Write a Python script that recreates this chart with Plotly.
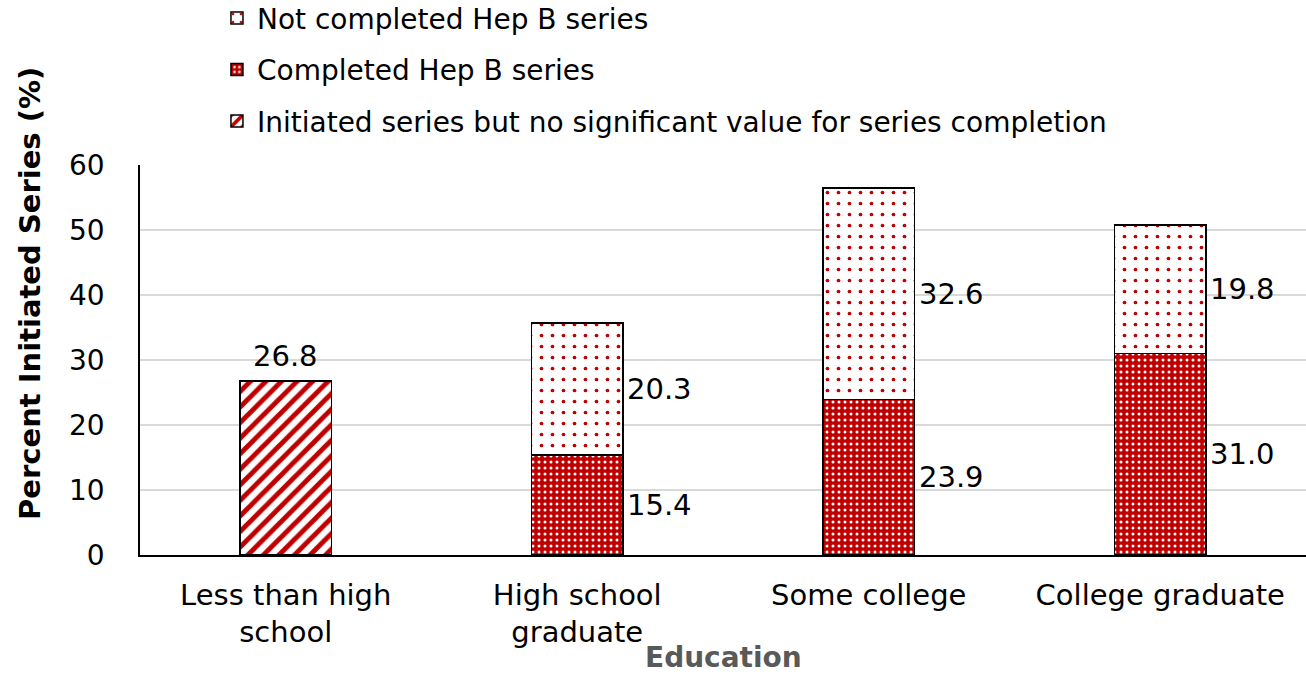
import plotly.graph_objects as go

categories = ["Less than high<br>school", "High school<br>graduate", "Some college", "College graduate"]
completed = [None, 15.4, 23.9, 31.0]
not_completed = [None, 20.3, 32.6, 19.8]
initiated_only = [26.8, None, None, None]

RED = "#C00000"
FONT = "DejaVu Sans"
FS = 28

fig = go.Figure()

fig.add_trace(go.Bar(
    x=categories, y=completed, name="Completed Hep B series", legendrank=2,
    legendgroup="b",
    marker=dict(color=RED, line=dict(color="black", width=1.5),
                pattern=dict(shape=".", bgcolor=RED, fgcolor="white", fgopacity=1, size=6, solidity=0.2)),
))
fig.add_trace(go.Bar(
    x=categories, y=not_completed, name="Not completed Hep B series", legendrank=1,
    legendgroup="a",
    marker=dict(color="white", line=dict(color="black", width=1.5),
                pattern=dict(shape=".", bgcolor="white", fgcolor=RED, fgopacity=1, size=11, solidity=0.09)),
))
fig.add_trace(go.Bar(
    x=categories, y=initiated_only, name="Initiated series but no significant value for series completion",
    legendrank=3, legendgroup="c",
    marker=dict(color="white", line=dict(color="black", width=1.5),
                pattern=dict(shape="/", bgcolor="white", fgcolor=RED, fgopacity=1, size=11, solidity=0.45)),
))

# data labels to the right of each segment
lab_font = dict(size=29, color="black", family=FONT)
for cat, c, n in zip(categories, completed, not_completed):
    if c is not None:
        fig.add_annotation(x=cat, y=c / 2, text=f"{c:.1f}", showarrow=False,
                           xanchor="left", xshift=48, font=lab_font)
        fig.add_annotation(x=cat, y=c + n / 2, text=f"{n:.1f}", showarrow=False,
                           xanchor="left", xshift=48, font=lab_font)
for cat, v in zip(categories, initiated_only):
    if v is not None:
        fig.add_annotation(x=cat, y=v, text=f"{v:.1f}", showarrow=False,
                           yanchor="bottom", yshift=6, font=lab_font)

# axis titles
fig.add_annotation(xref="paper", yref="paper", x=-0.095, y=0.67, xanchor="center", yanchor="middle",
                   text="<b>Percent Initiated Series (%)</b>", textangle=-90, showarrow=False,
                   font=dict(size=29, color="black", family=FONT))
fig.add_annotation(xref="paper", yref="paper", x=0.5, y=-0.264, xanchor="center", yanchor="middle",
                   text="<b>Education</b>", showarrow=False,
                   font=dict(size=FS, color="#595959", family=FONT))

fig.update_layout(
    barmode="stack",
    bargap=0.685,
    width=1306, height=674,
    margin=dict(l=140, r=0, t=165, b=119, autoexpand=False),
    plot_bgcolor="white", paper_bgcolor="white",
    font=dict(family=FONT, size=FS, color="black"),
    legend=dict(x=0.066, y=1.44, xanchor="left", yanchor="top", traceorder="grouped",
                tracegroupgap=12, font=dict(size=FS, color="black"), itemwidth=30),
    xaxis=dict(showline=True, linecolor="black", linewidth=1.5, ticks="", automargin=False,
               ticklabelstandoff=13, tickfont=dict(size=29)),
    yaxis=dict(range=[0, 60], dtick=10, showline=True, linecolor="black", linewidth=1.5,
               gridcolor="#D9D9D9", gridwidth=1.5, zeroline=False, ticklabelstandoff=28,
               tickfont=dict(size=FS), automargin=False),
)

fig.write_html("out.html", config={"displayModeBar": False},
               post_script="document.body.style.margin='0';")
